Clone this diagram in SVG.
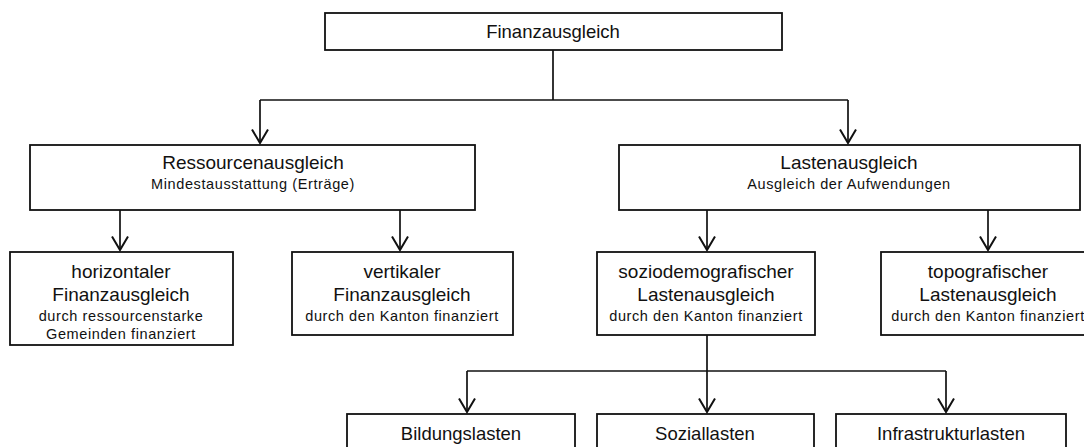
<svg xmlns="http://www.w3.org/2000/svg" width="1084" height="447" viewBox="0 0 1084 447">
<defs>
<marker id="arr" markerWidth="16" markerHeight="18" refX="14.5" refY="9" orient="auto" markerUnits="userSpaceOnUse" viewBox="0 0 16 18">
<path d="M1,1 L14.5,9 L1,17" fill="none" stroke="#111" stroke-width="2"/>
</marker>
<style>
.box{fill:#fff;stroke:#111;stroke-width:1.8}
.t{font-family:"Liberation Sans",Arial,sans-serif;fill:#111;text-anchor:middle}
.big{font-size:18.5px}
.mid{font-size:19px}
.sm{font-size:14.5px;letter-spacing:0.6px}
.ln{fill:none;stroke:#111;stroke-width:1.7}
</style>
</defs>
<rect width="1084" height="447" fill="#fff"/>
<g id="connectors">
<path class="ln" d="M553,50 V100"/>
<path class="ln" d="M260,100 H848"/>
<path class="ln" d="M260,100 V143" marker-end="url(#arr)"/>
<path class="ln" d="M848,100 V143" marker-end="url(#arr)"/>
<path class="ln" d="M120,210 V250" marker-end="url(#arr)"/>
<path class="ln" d="M400,210 V250" marker-end="url(#arr)"/>
<path class="ln" d="M707,210 V250" marker-end="url(#arr)"/>
<path class="ln" d="M988,210 V250" marker-end="url(#arr)"/>
<path class="ln" d="M707,335 V412" marker-end="url(#arr)"/>
<path class="ln" d="M467,371 H946"/>
<path class="ln" d="M467,371 V412" marker-end="url(#arr)"/>
<path class="ln" d="M946,371 V412" marker-end="url(#arr)"/>
</g>
<g id="finanzausgleich">
<rect class="box" x="325" y="13" width="457" height="37"/>
<text class="t big" x="553" y="38">Finanzausgleich</text>
</g>
<g id="ressourcenausgleich">
<rect class="box" x="30" y="145" width="445" height="65"/>
<text class="t mid" x="253" y="169">Ressourcenausgleich</text>
<text class="t sm" x="253" y="189">Mindestausstattung (Erträge)</text>
</g>
<g id="lastenausgleich">
<rect class="box" x="619" y="145" width="461" height="65"/>
<text class="t mid" x="849" y="169">Lastenausgleich</text>
<text class="t sm" x="849" y="189">Ausgleich der Aufwendungen</text>
</g>
<g id="horizontal">
<rect class="box" x="10" y="252" width="223" height="93"/>
<text class="t mid" x="121" y="278">horizontaler</text>
<text class="t mid" x="121" y="301">Finanzausgleich</text>
<text class="t sm" x="121" y="321">durch ressourcenstarke</text>
<text class="t sm" x="121" y="339">Gemeinden finanziert</text>
</g>
<g id="vertikal">
<rect class="box" x="292" y="252" width="221" height="83"/>
<text class="t mid" x="402" y="278">vertikaler</text>
<text class="t mid" x="402" y="301">Finanzausgleich</text>
<text class="t sm" x="402" y="321">durch den Kanton finanziert</text>
</g>
<g id="soziodemografisch">
<rect class="box" x="597" y="252" width="218" height="83"/>
<text class="t mid" x="706" y="278">soziodemografischer</text>
<text class="t mid" x="706" y="301">Lastenausgleich</text>
<text class="t sm" x="706" y="321">durch den Kanton finanziert</text>
</g>
<g id="topografisch">
<rect class="box" x="881" y="252" width="214" height="83"/>
<text class="t mid" x="988" y="278">topografischer</text>
<text class="t mid" x="988" y="301">Lastenausgleich</text>
<text class="t sm" x="988" y="321">durch den Kanton finanziert</text>
</g>
<g id="bildungslasten">
<rect class="box" x="347" y="414" width="228" height="45"/>
<text class="t big" x="461" y="440">Bildungslasten</text>
</g>
<g id="soziallasten">
<rect class="box" x="597" y="414" width="217" height="45"/>
<text class="t big" x="705" y="440">Soziallasten</text>
</g>
<g id="infrastrukturlasten">
<rect class="box" x="836" y="414" width="230" height="45"/>
<text class="t big" x="951" y="440">Infrastrukturlasten</text>
</g>
</svg>
